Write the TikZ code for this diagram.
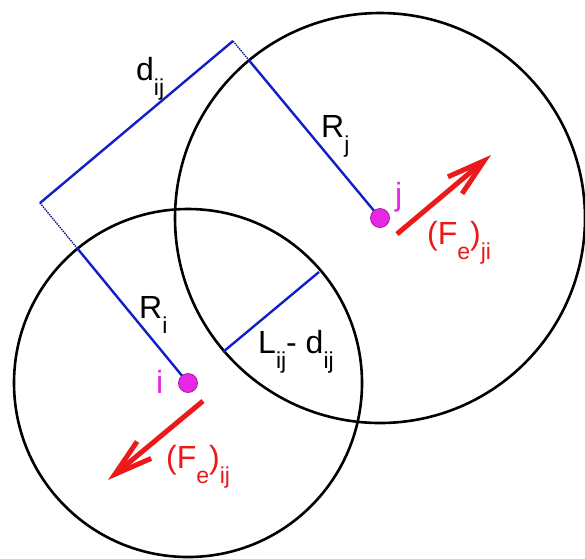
\documentclass[tikz,border=0pt]{standalone}
\usepackage{fontspec}
\setmainfont{Liberation Sans}
\usetikzlibrary{arrows.meta,calc}
\definecolor{bl}{RGB}{20,30,200}
\definecolor{rd}{RGB}{235,25,25}
\definecolor{mg}{RGB}{230,40,230}
\newcommand{\lowsub}[1]{\raisebox{-15pt}{\fontsize{23}{23}\selectfont #1}}
\begin{document}
\begin{tikzpicture}[x=1pt,y=-1pt,
  circ/.style={draw=black,line width=2.6pt},
  bline/.style={draw=bl,line width=2.4pt},
  dline/.style={draw=bl!60!black,line width=1.4pt,densely dotted},
  force/.style={draw=rd,line width=5pt,-{Straight Barb[length=38pt,width=22pt,line width=5pt]}},
  dot/.style={circle,draw=mg!70!black,fill=mg,line width=0.8pt,minimum size=19pt,inner sep=0pt},
  lbl/.style={anchor=base west,inner sep=0pt,font=\fontsize{32}{36}\selectfont},
  ptlbl/.style={lbl,text=mg},
  flbl/.style={lbl,text=rd}]
\useasboundingbox (0,0) rectangle (585,558);
\fill[white] (0,0) rectangle (585,558);
\coordinate (ci) at (188,383);
\coordinate (cj) at (380,218);
\draw[circ] (ci) circle (174);
\draw[circ] (cj) circle (205);
\coordinate (A) at (40,203);
\coordinate (B) at (233,41);
\coordinate (Pi) at ($(ci)!174/233!(A)$);
\coordinate (Pj) at ($(cj)!205/230!(B)$);
\coordinate (L1) at (223,352);
\coordinate (L2) at (319,272);
\draw[bline] (ci) -- (Pi);
\draw[dline] (Pi) -- (A);
\draw[bline] (A) -- (B);
\draw[dline] (B) -- (Pj);
\draw[bline] (Pj) -- (cj);
\draw[bline] (L1) -- (L2);
\node[dot] (i) at (ci) {};
\node[dot] (j) at (cj) {};
\coordinate (fj0) at (397,234);
\coordinate (fj1) at (491,155);
\coordinate (fi0) at (203,401);
\coordinate (fi1) at (108,480);
\draw[force] (fj0) -- (fj1);
\draw[force] (fi0) -- (fi1);
\node[lbl] (ld) at (136,80) {d\lowsub{ij}};
\node[lbl] (lrj) at (321,137) {R\lowsub{j}};
\node[lbl] (lri) at (139,318) {R\lowsub{i}};
\node[lbl] (lL) at (258,353) {L\lowsub{ij}- d\lowsub{ij}};
\node[ptlbl] (li) at (156,393) {i};
\node[ptlbl] (lj) at (395,205) {j};
\node[flbl] (lfj) at (427,244) {(F\lowsub{e})\lowsub{ji}};
\node[flbl] (lfi) at (166,468) {(F\lowsub{e})\lowsub{ij}};
\end{tikzpicture}
\end{document}
